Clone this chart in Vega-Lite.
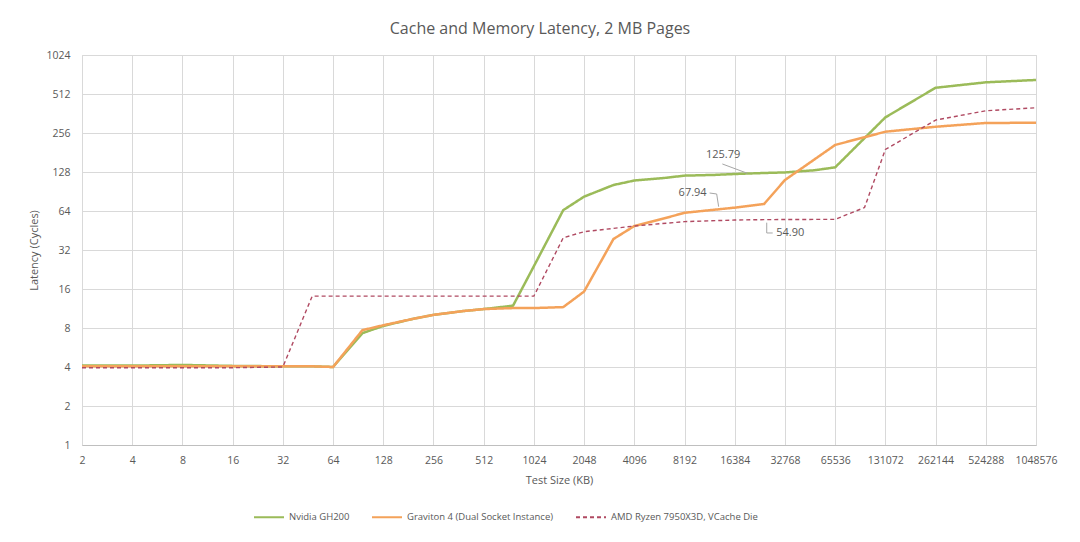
{
  "$schema": "https://vega.github.io/schema/vega-lite/v6.json",
  "width": 954,
  "height": 390,
  "autosize": "none",
  "padding": {"left": 82, "top": 55, "right": 44, "bottom": 97},
  "background": "white",
  "title": {
    "text": "Cache and Memory Latency, 2 MB Pages",
    "font": "Open Sans",
    "fontSize": 16,
    "fontWeight": "normal",
    "color": "#595959",
    "anchor": "middle",
    "dx": -19,
    "offset": 13
  },
  "config": {
    "font": "Open Sans",
    "view": {"stroke": "#d9d9d9"},
    "axis": {
      "labelFont": "Open Sans",
      "labelFontSize": 10.5,
      "labelColor": "#595959",
      "titleFont": "Open Sans",
      "titleFontSize": 11,
      "titleFontWeight": "normal",
      "titleColor": "#595959",
      "gridColor": "#d9d9d9",
      "domainColor": "#bfbfbf",
      "ticks": false
    }
  },
  "datasets": {
    "latency": [
      {"cpu": "Nvidia GH200", "size": 2, "latency": 4.1},
      {"cpu": "Nvidia GH200", "size": 4, "latency": 4.1},
      {"cpu": "Nvidia GH200", "size": 8, "latency": 4.15},
      {"cpu": "Nvidia GH200", "size": 16, "latency": 4.08},
      {"cpu": "Nvidia GH200", "size": 32, "latency": 4.05},
      {"cpu": "Nvidia GH200", "size": 48, "latency": 4.05},
      {"cpu": "Nvidia GH200", "size": 64, "latency": 4.0},
      {"cpu": "Nvidia GH200", "size": 96, "latency": 7.3},
      {"cpu": "Nvidia GH200", "size": 128, "latency": 8.3},
      {"cpu": "Nvidia GH200", "size": 192, "latency": 9.4},
      {"cpu": "Nvidia GH200", "size": 256, "latency": 10.1},
      {"cpu": "Nvidia GH200", "size": 384, "latency": 10.8},
      {"cpu": "Nvidia GH200", "size": 512, "latency": 11.2},
      {"cpu": "Nvidia GH200", "size": 768, "latency": 11.9},
      {"cpu": "Nvidia GH200", "size": 1024, "latency": 24},
      {"cpu": "Nvidia GH200", "size": 1536, "latency": 65},
      {"cpu": "Nvidia GH200", "size": 2048, "latency": 82.6},
      {"cpu": "Nvidia GH200", "size": 3072, "latency": 101.6},
      {"cpu": "Nvidia GH200", "size": 4096, "latency": 110},
      {"cpu": "Nvidia GH200", "size": 6144, "latency": 115},
      {"cpu": "Nvidia GH200", "size": 8192, "latency": 120},
      {"cpu": "Nvidia GH200", "size": 12288, "latency": 121.5},
      {"cpu": "Nvidia GH200", "size": 16384, "latency": 123.5},
      {"cpu": "Nvidia GH200", "size": 24576, "latency": 125.79},
      {"cpu": "Nvidia GH200", "size": 32768, "latency": 127},
      {"cpu": "Nvidia GH200", "size": 49152, "latency": 132},
      {"cpu": "Nvidia GH200", "size": 65536, "latency": 139},
      {"cpu": "Nvidia GH200", "size": 131072, "latency": 338},
      {"cpu": "Nvidia GH200", "size": 262144, "latency": 572},
      {"cpu": "Nvidia GH200", "size": 524288, "latency": 630},
      {"cpu": "Nvidia GH200", "size": 1048576, "latency": 657},
      {"cpu": "Graviton 4 (Dual Socket Instance)", "size": 2, "latency": 4.05},
      {"cpu": "Graviton 4 (Dual Socket Instance)", "size": 4, "latency": 4.05},
      {"cpu": "Graviton 4 (Dual Socket Instance)", "size": 8, "latency": 4.05},
      {"cpu": "Graviton 4 (Dual Socket Instance)", "size": 16, "latency": 4.05},
      {"cpu": "Graviton 4 (Dual Socket Instance)", "size": 32, "latency": 4.05},
      {"cpu": "Graviton 4 (Dual Socket Instance)", "size": 48, "latency": 4.05},
      {"cpu": "Graviton 4 (Dual Socket Instance)", "size": 64, "latency": 4.0},
      {"cpu": "Graviton 4 (Dual Socket Instance)", "size": 96, "latency": 7.7},
      {"cpu": "Graviton 4 (Dual Socket Instance)", "size": 128, "latency": 8.4},
      {"cpu": "Graviton 4 (Dual Socket Instance)", "size": 192, "latency": 9.4},
      {"cpu": "Graviton 4 (Dual Socket Instance)", "size": 256, "latency": 10.1},
      {"cpu": "Graviton 4 (Dual Socket Instance)", "size": 384, "latency": 10.8},
      {"cpu": "Graviton 4 (Dual Socket Instance)", "size": 512, "latency": 11.2},
      {"cpu": "Graviton 4 (Dual Socket Instance)", "size": 768, "latency": 11.4},
      {"cpu": "Graviton 4 (Dual Socket Instance)", "size": 1024, "latency": 11.4},
      {"cpu": "Graviton 4 (Dual Socket Instance)", "size": 1536, "latency": 11.6},
      {"cpu": "Graviton 4 (Dual Socket Instance)", "size": 2048, "latency": 15.3},
      {"cpu": "Graviton 4 (Dual Socket Instance)", "size": 3072, "latency": 38.9},
      {"cpu": "Graviton 4 (Dual Socket Instance)", "size": 4096, "latency": 49},
      {"cpu": "Graviton 4 (Dual Socket Instance)", "size": 6144, "latency": 56},
      {"cpu": "Graviton 4 (Dual Socket Instance)", "size": 8192, "latency": 62},
      {"cpu": "Graviton 4 (Dual Socket Instance)", "size": 16384, "latency": 67.94},
      {"cpu": "Graviton 4 (Dual Socket Instance)", "size": 24576, "latency": 72.5},
      {"cpu": "Graviton 4 (Dual Socket Instance)", "size": 32768, "latency": 111},
      {"cpu": "Graviton 4 (Dual Socket Instance)", "size": 65536, "latency": 207},
      {"cpu": "Graviton 4 (Dual Socket Instance)", "size": 131072, "latency": 262},
      {"cpu": "Graviton 4 (Dual Socket Instance)", "size": 262144, "latency": 286},
      {"cpu": "Graviton 4 (Dual Socket Instance)", "size": 524288, "latency": 306},
      {"cpu": "Graviton 4 (Dual Socket Instance)", "size": 1048576, "latency": 307},
      {"cpu": "AMD Ryzen 7950X3D, VCache Die", "size": 2, "latency": 3.95},
      {"cpu": "AMD Ryzen 7950X3D, VCache Die", "size": 4, "latency": 3.95},
      {"cpu": "AMD Ryzen 7950X3D, VCache Die", "size": 8, "latency": 3.95},
      {"cpu": "AMD Ryzen 7950X3D, VCache Die", "size": 16, "latency": 3.95},
      {"cpu": "AMD Ryzen 7950X3D, VCache Die", "size": 32, "latency": 4.0},
      {"cpu": "AMD Ryzen 7950X3D, VCache Die", "size": 48, "latency": 14.1},
      {"cpu": "AMD Ryzen 7950X3D, VCache Die", "size": 64, "latency": 14.1},
      {"cpu": "AMD Ryzen 7950X3D, VCache Die", "size": 128, "latency": 14.1},
      {"cpu": "AMD Ryzen 7950X3D, VCache Die", "size": 256, "latency": 14.1},
      {"cpu": "AMD Ryzen 7950X3D, VCache Die", "size": 512, "latency": 14.1},
      {"cpu": "AMD Ryzen 7950X3D, VCache Die", "size": 1024, "latency": 14.1},
      {"cpu": "AMD Ryzen 7950X3D, VCache Die", "size": 1536, "latency": 39.8},
      {"cpu": "AMD Ryzen 7950X3D, VCache Die", "size": 2048, "latency": 44.3},
      {"cpu": "AMD Ryzen 7950X3D, VCache Die", "size": 3072, "latency": 47},
      {"cpu": "AMD Ryzen 7950X3D, VCache Die", "size": 4096, "latency": 49},
      {"cpu": "AMD Ryzen 7950X3D, VCache Die", "size": 8192, "latency": 53},
      {"cpu": "AMD Ryzen 7950X3D, VCache Die", "size": 16384, "latency": 54.5},
      {"cpu": "AMD Ryzen 7950X3D, VCache Die", "size": 24576, "latency": 54.9},
      {"cpu": "AMD Ryzen 7950X3D, VCache Die", "size": 32768, "latency": 55},
      {"cpu": "AMD Ryzen 7950X3D, VCache Die", "size": 65536, "latency": 55.2},
      {"cpu": "AMD Ryzen 7950X3D, VCache Die", "size": 98304, "latency": 68},
      {"cpu": "AMD Ryzen 7950X3D, VCache Die", "size": 131072, "latency": 191},
      {"cpu": "AMD Ryzen 7950X3D, VCache Die", "size": 262144, "latency": 322},
      {"cpu": "AMD Ryzen 7950X3D, VCache Die", "size": 524288, "latency": 380},
      {"cpu": "AMD Ryzen 7950X3D, VCache Die", "size": 1048576, "latency": 401}
    ],
    "labels": [
      {"label": "125.79", "size": 13960, "latency": 173.2},
      {"label": "67.94", "size": 9160, "latency": 87.7},
      {"label": "54.90", "size": 35240, "latency": 43.1}
    ],
    "leaders": [
      {"leader": "a", "step": 1, "size": 13810, "latency": 147.6},
      {"leader": "a", "step": 2, "size": 19510, "latency": 125.1},
      {"leader": "b", "step": 1, "size": 11585, "latency": 88.1},
      {"leader": "b", "step": 2, "size": 12770, "latency": 86.6},
      {"leader": "b", "step": 3, "size": 13120, "latency": 69.1},
      {"leader": "c", "step": 1, "size": 25480, "latency": 52.0},
      {"leader": "c", "step": 2, "size": 25480, "latency": 43.3},
      {"leader": "c", "step": 3, "size": 27670, "latency": 43.3}
    ]
  },
  "layer": [
    {
      "data": {"name": "latency"},
      "mark": {"type": "line", "clip": true},
      "encoding": {
        "x": {
          "field": "size",
          "type": "quantitative",
          "title": "Test Size (KB)",
          "scale": {"type": "log", "base": 2, "domain": [2, 1048576], "nice": false},
          "axis": {
            "values": [2, 4, 8, 16, 32, 64, 128, 256, 512, 1024, 2048, 4096, 8192, 16384, 32768, 65536, 131072, 262144, 524288, 1048576],
            "format": "d",
            "labelPadding": 10,
            "titlePadding": 9,
            "labelFlush": false,
            "labelOverlap": false
          }
        },
        "y": {
          "field": "latency",
          "type": "quantitative",
          "title": "Latency (Cycles)",
          "scale": {"type": "log", "base": 2, "domain": [1, 1024], "nice": false},
          "axis": {
            "values": [1, 2, 4, 8, 16, 32, 64, 128, 256, 512, 1024],
            "format": "d",
            "labelPadding": 12,
            "titlePadding": 6,
            "domain": false
          }
        },
        "color": {
          "field": "cpu",
          "type": "nominal",
          "sort": null,
          "scale": {
            "domain": ["Nvidia GH200", "Graviton 4 (Dual Socket Instance)", "AMD Ryzen 7950X3D, VCache Die"],
            "range": ["#9bbb59", "#f4a25a", "#b04a62"]
          },
          "legend": {
            "title": null,
            "orient": "none",
            "legendX": 171,
            "legendY": 446,
            "direction": "horizontal",
            "symbolType": "stroke",
            "symbolSize": 900,
            "symbolStrokeWidth": 2,
            "labelFont": "Open Sans",
            "labelFontSize": 9.5,
            "labelColor": "#595959",
            "labelOffset": 4,
            "labelLimit": 0,
            "columnPadding": 18
          }
        },
        "strokeDash": {
          "field": "cpu",
          "type": "nominal",
          "sort": null,
          "scale": {
            "domain": ["Nvidia GH200", "Graviton 4 (Dual Socket Instance)", "AMD Ryzen 7950X3D, VCache Die"],
            "range": [[1, 0], [1, 0], [4, 3]]
          },
          "legend": null
        },
        "strokeWidth": {
          "condition": {"test": "datum.cpu === 'AMD Ryzen 7950X3D, VCache Die'", "value": 1.4},
          "value": 2.5
        }
      }
    },
    {
      "data": {"name": "leaders"},
      "mark": {"type": "line", "color": "#a6a6a6", "strokeWidth": 1},
      "encoding": {
        "x": {"field": "size", "type": "quantitative"},
        "y": {"field": "latency", "type": "quantitative"},
        "detail": {"field": "leader"},
        "order": {"field": "step"}
      }
    },
    {
      "data": {"name": "labels"},
      "mark": {"type": "text", "font": "Open Sans", "fontSize": 11, "color": "#595959", "align": "center", "baseline": "middle"},
      "encoding": {
        "x": {"field": "size", "type": "quantitative"},
        "y": {"field": "latency", "type": "quantitative"},
        "text": {"field": "label"}
      }
    }
  ]
}
